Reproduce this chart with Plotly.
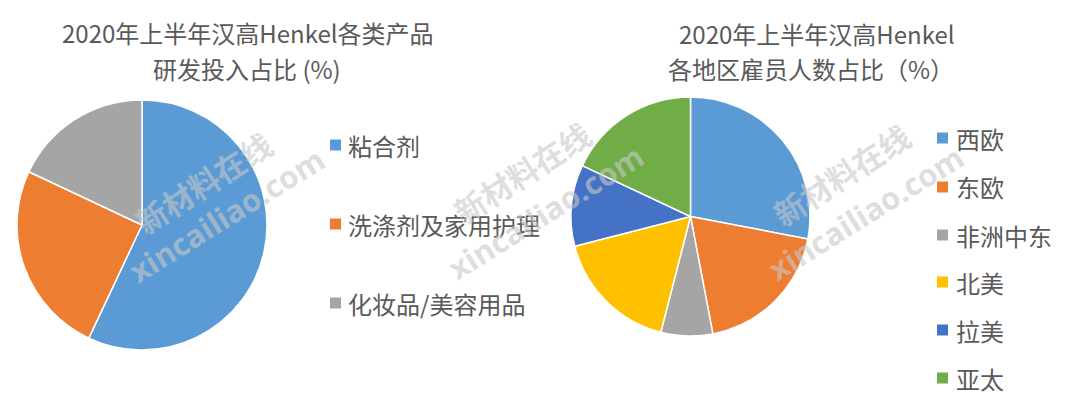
import plotly.graph_objects as go

W, H = 1080, 410
OFF = 8  # page body margin

# Data
title_left_lines = ["2020年上半年汉高Henkel各类产品", "研发投入占比 (%)"]
labels_left = ["粘合剂", "洗涤剂及家用护理", "化妆品/美容用品"]
values_left = [57, 25, 18]

title_right_lines = ["2020年上半年汉高Henkel", "各地区雇员人数占比（%）"]
labels_right = ["西欧", "东欧", "非洲中东", "北美", "拉美", "亚太"]
values_right = [28, 19, 7, 17, 11, 18]

colors_left = ["#5B9BD5", "#ED7D31", "#A5A5A5"]
colors_right = ["#5B9BD5", "#ED7D31", "#A5A5A5", "#FFC000", "#4472C4", "#70AD47"]

FONT = "Noto Sans CJK SC"
TXT = "#595959"


def px_x(x):
    return (x - OFF) / W


def px_y(y):
    return 1 - (y - OFF) / H


fig = go.Figure()
fig.add_trace(go.Pie(
    labels=labels_left, values=values_left, sort=False, direction="clockwise",
    rotation=0, textinfo="none", hoverinfo="label+percent",
    marker=dict(colors=colors_left, line=dict(color="white", width=1.5)),
    domain=dict(x=[px_x(17), px_x(267)], y=[px_y(350), px_y(100)]),
    showlegend=False,
))
fig.add_trace(go.Pie(
    labels=labels_right, values=values_right, sort=False, direction="clockwise",
    rotation=0, textinfo="none", hoverinfo="label+percent",
    marker=dict(colors=colors_right, line=dict(color="white", width=1.5)),
    domain=dict(x=[px_x(571), px_x(810)], y=[px_y(336), px_y(97)]),
    showlegend=False,
))

annotations = []
shapes = []

# Titles
for txt, (cx, cy) in zip(title_left_lines, [(248, 32), (247, 68)]):
    annotations.append(dict(text=txt, x=px_x(cx), y=px_y(cy), xref="paper", yref="paper",
                            xanchor="center", yanchor="middle", showarrow=False,
                            font=dict(family=FONT, size=24, color=TXT)))
for txt, (cx, cy) in zip(title_right_lines, [(817, 33), (811, 68)]):
    annotations.append(dict(text=txt, x=px_x(cx), y=px_y(cy), xref="paper", yref="paper",
                            xanchor="center", yanchor="middle", showarrow=False,
                            font=dict(family=FONT, size=24, color=TXT)))


# Legends (manual)
def add_legend(labels, colors, sq_x, text_x, ys):
    for lab, col, yy in zip(labels, colors, ys):
        shapes.append(dict(type="rect", xref="paper", yref="paper",
                           x0=px_x(sq_x), x1=px_x(sq_x + 11),
                           y0=px_y(yy + 5.5), y1=px_y(yy - 5.5),
                           fillcolor=col, line=dict(width=0)))
        annotations.append(dict(text=lab, x=px_x(text_x), y=px_y(yy), xref="paper", yref="paper",
                                xanchor="left", yanchor="middle", showarrow=False,
                                font=dict(family=FONT, size=24, color=TXT)))


add_legend(labels_left, colors_left, 330, 346, [145, 224, 303])
add_legend(labels_right, colors_right, 937, 954, [138, 187, 235, 282, 330, 378])

# Watermarks
wm_color = "rgba(200,200,200,0.6)"
for (cx1, cy1), (cx2, cy2) in [((203, 183), (226, 215)), ((521, 172), (545, 212)), ((841, 175), (865, 213))]:
    annotations.append(dict(text="<b>新材料在线</b>", x=px_x(cx1), y=px_y(cy1), xref="paper", yref="paper",
                            xanchor="center", yanchor="middle", showarrow=False, textangle=-33,
                            font=dict(family=FONT, size=31, color=wm_color)))
    annotations.append(dict(text="<b>xincailiao.com</b>", x=px_x(cx2), y=px_y(cy2), xref="paper", yref="paper",
                            xanchor="center", yanchor="middle", showarrow=False, textangle=-32,
                            font=dict(family="Open Sans", size=31, color=wm_color)))

fig.update_layout(
    width=W, height=H,
    margin=dict(l=0, r=0, t=0, b=0),
    paper_bgcolor="white", plot_bgcolor="white",
    annotations=annotations, shapes=shapes,
    showlegend=False,
)

fig.write_html("out.html", config={"displayModeBar": False})
